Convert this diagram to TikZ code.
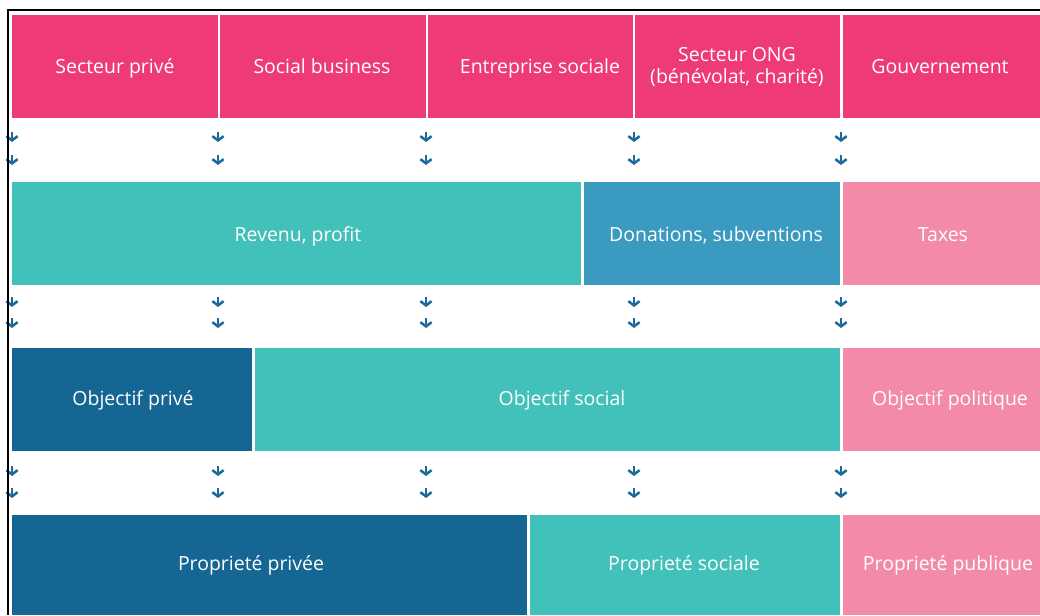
\documentclass[tikz,border=0pt]{standalone}
\usepackage{fontspec}
\setmainfont{Open Sans}
\usetikzlibrary{arrows.meta}
\definecolor{SectorPink}{HTML}{EE3A78}
\definecolor{SoftPink}{HTML}{F28AA8}
\definecolor{SocialTeal}{HTML}{42C0BA}
\definecolor{GiftBlue}{HTML}{3A9AC0}
\definecolor{PrivateBlue}{HTML}{166693}
\definecolor{ArrowBlue}{HTML}{1C6A9C}

\begin{document}
\begin{tikzpicture}[x=0.75pt,y=-0.75pt,
	label/.style={text=white,font=\fontsize{14.6}{17}\selectfont,align=center,anchor=base},
	tick/.style={draw=ArrowBlue,line width=1.9pt,-{Straight Barb[length=3.2pt,width=8.5pt]}}]
	\def\W{1040}  % picture width
	\def\H{615}   % picture height
	\useasboundingbox (0,0) rectangle (\W,\H);
	\fill[white] (0,0) rectangle (\W,\H);
	
	% sectors
	\fill[SectorPink] (12,15) rectangle (218,118);
	\fill[SectorPink] (220,15) rectangle (426,118);
	\fill[SectorPink] (428,15) rectangle (633,118);
	\fill[SectorPink] (635,15) rectangle (840,118);
	\fill[SectorPink] (843,15) rectangle (\W,118);
	\node[label] (prive) at (115,73) {Secteur privé};
	\node[label] (business) at (322,73) {Social business};
	\node[label] (entreprise) at (540,73) {Entreprise sociale};
	\node[label,anchor=center] (ong) at (737,67) {Secteur ONG\\(bénévolat, charité)};
	\node[label] (gouv) at (940,73) {Gouvernement};
	
	% financement
	\fill[SocialTeal] (12,182) rectangle (581,285);
	\fill[GiftBlue] (584,182) rectangle (840,285);
	\fill[SoftPink] (843,182) rectangle (\W,285);
	\node[label] (revenu) at (298,241) {Revenu, profit};
	\node[label] (dons) at (716,241) {Donations, subventions};
	\node[label] (taxes) at (943,241) {Taxes};
	
	% objectifs
	\fill[PrivateBlue] (12,348) rectangle (252,451);
	\fill[SocialTeal] (255,348) rectangle (840,451);
	\fill[SoftPink] (843,348) rectangle (\W,451);
	\node[label] (objprive) at (133,405) {Objectif privé};
	\node[label] (objsocial) at (562,405) {Objectif social};
	\node[label] (objpol) at (950,405) {Objectif politique};
	
	% propriete
	\fill[PrivateBlue] (12,515) rectangle (527,\H);
	\fill[SocialTeal] (530,515) rectangle (840,\H);
	\fill[SoftPink] (843,515) rectangle (\W,\H);
	\node[label] (propprive) at (251,570) {Proprieté privée};
	\node[label] (propsocial) at (684,570) {Proprieté sociale};
	\node[label] (proppub) at (948,570) {Proprieté publique};
	
	% little arrows between the rows
	\foreach \x in {12,218,426,634,841}
		\foreach \y in {137,160,302,323,471,493}{
			\coordinate (a\x-\y) at (\x,\y-5);
			\coordinate (b\x-\y) at (\x,\y+5);
			\draw[tick] (a\x-\y) -- (b\x-\y);
		}
	
	% frame
	\draw[line width=0.9pt] (8,\H) -- (8,10) -- (\W,10);
\end{tikzpicture}
\end{document}
